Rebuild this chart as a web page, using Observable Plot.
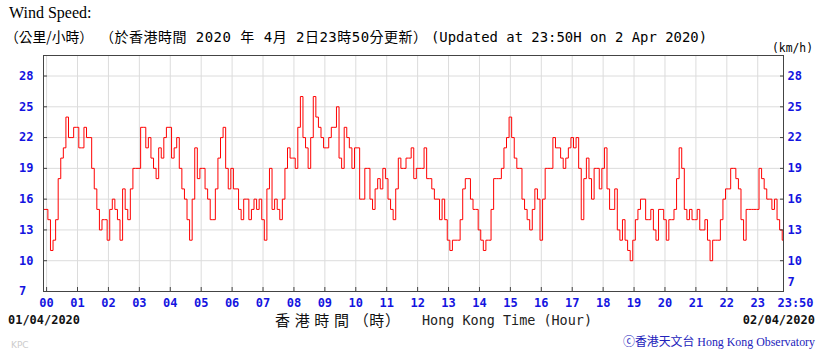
<!DOCTYPE html>
<html><head><meta charset="utf-8">
<script src="https://cdn.jsdelivr.net/npm/d3@7"></script>
<script src="https://cdn.jsdelivr.net/npm/@observablehq/plot@0.6"></script>
<style>
html,body{margin:0;padding:0;background:#fff;}
#wrap{position:relative;width:819px;height:354px;overflow:hidden;}
#chart{position:absolute;left:0;top:0;}
#overlay{position:absolute;left:0;top:0;pointer-events:none;}
</style></head><body>
<div id="wrap"><div id="chart"></div>
<svg id="overlay" width="819" height="354" xmlns="http://www.w3.org/2000/svg">
  <text x="9" y="18" font-family="Liberation Serif" font-size="16" fill="#000">Wind Speed:</text>
  <text x="5" y="42" font-family="'Noto Sans CJK TC'" font-size="14" fill="#000" textLength="88" lengthAdjust="spacingAndGlyphs">（公里/小時）</text>
  <text x="100" y="42" font-family="'DejaVu Sans Mono','Noto Sans CJK TC'" font-size="14" fill="#000" textLength="327" lengthAdjust="spacing">（於香港時間 2020 年 4月 2日23時50分更新）</text>
  <text x="431" y="42" font-family="'DejaVu Sans Mono'" font-size="14" fill="#000" textLength="276" lengthAdjust="spacingAndGlyphs">(Updated at 23:50H on 2 Apr 2020)</text>
  <text x="772" y="52" font-family="'DejaVu Sans Mono'" font-size="12" fill="#000" textLength="41" lengthAdjust="spacingAndGlyphs">(km/h)</text>
  <text x="8" y="324" font-family="'DejaVu Sans Mono'" font-weight="bold" font-size="12" fill="#111" textLength="72" lengthAdjust="spacingAndGlyphs">01/04/2020</text>
  <text x="275" y="326" font-family="'Noto Sans CJK TC'" font-size="15" fill="#111" textLength="125" lengthAdjust="spacing">香 港 時 間 （時）</text>
  <text x="422" y="325" font-family="'DejaVu Sans Mono'" font-size="14" fill="#222" textLength="170" lengthAdjust="spacingAndGlyphs">Hong Kong Time (Hour)</text>
  <text x="815" y="324" text-anchor="end" font-family="'DejaVu Sans Mono'" font-weight="bold" font-size="12" fill="#111">02/04/2020</text>
  <text x="11" y="348" font-family="'DejaVu Sans'" font-size="9" fill="#ccc">KPC</text>
  <text x="623" y="346" font-family="'Liberation Serif','Noto Sans CJK TC'" font-size="12" fill="#2222bb" textLength="192" lengthAdjust="spacingAndGlyphs">ⓒ香港天文台 Hong Kong Observatory</text>
</svg>
</div>
<script>
// Tick values and labels
const yTicks = [7, 10, 13, 16, 19, 22, 25, 28];
const hourTicks = [0,1,2,3,4,5,6,7,8,9,10,11,12,13,14,15,16,17,18,19,20,21,22,23];
const hourLabels = ["00","01","02","03","04","05","06","07","08","09","10","11","12","13","14","15","16","17","18","19","20","21","22","23"];
const endLabel = "23:50";
const endMinute = 1430;

// Wind speed (km/h): one reading just before midnight, then every 5 minutes 00:00 .. 23:50
const windStart = [15];
const windH00 = [15, 14, 11, 12, 14, 18, 20, 21, 24, 22, 22, 23];
const windH01 = [23, 21, 21, 23, 22, 22, 19, 17, 15, 13, 14, 14];
const windH02 = [12, 15, 16, 15, 14, 12, 17, 15, 14, 17, 19, 19];
const windH03 = [19, 23, 23, 21, 22, 20, 19, 18, 21, 20, 22, 23];
const windH04 = [23, 20, 21, 22, 19, 17, 16, 14, 12, 16, 21, 18];
const windH05 = [19, 19, 17, 16, 14, 14, 17, 20, 22, 23, 19, 17];
const windH06 = [19, 17, 17, 15, 14, 16, 16, 14, 15, 16, 15, 16];
const windH07 = [14, 12, 17, 19, 15, 16, 15, 14, 16, 19, 21, 20];
const windH08 = [20, 19, 23, 26, 22, 21, 19, 22, 26, 24, 23, 22];
const windH09 = [21, 21, 22, 23, 23, 25, 20, 19, 23, 22, 21, 19];
const windH10 = [21, 21, 16, 16, 19, 19, 16, 15, 17, 18, 17, 19];
const windH11 = [18, 16, 15, 14, 17, 20, 19, 19, 20, 20, 21, 18];
const windH12 = [19, 19, 19, 21, 18, 18, 17, 16, 16, 14, 16, 14];
const windH13 = [12, 11, 12, 12, 12, 14, 17, 18, 18, 16, 15, 15];
const windH14 = [13, 12, 11, 12, 12, 15, 18, 18, 18, 19, 21, 22];
const windH15 = [24, 22, 20, 19, 19, 16, 15, 14, 13, 15, 17, 16];
const windH16 = [12, 16, 19, 19, 19, 22, 21, 21, 20, 19, 20, 21];
const windH17 = [22, 21, 22, 19, 14, 18, 20, 18, 16, 19, 19, 17];
const windH18 = [19, 21, 17, 15, 15, 17, 13, 12, 14, 12, 11, 10];
const windH19 = [12, 14, 15, 16, 16, 14, 14, 15, 13, 12, 15, 15];
const windH20 = [14, 12, 14, 14, 15, 18, 21, 19, 15, 14, 15, 14];
const windH21 = [14, 15, 13, 13, 14, 12, 10, 12, 12, 12, 14, 16];
const windH22 = [17, 17, 19, 19, 18, 17, 14, 12, 15, 15, 15, 15];
const windH23 = [15, 19, 18, 17, 16, 16, 15, 16, 14, 13, 12];

const windValues = [].concat(windStart, windH00, windH01, windH02, windH03, windH04, windH05,
  windH06, windH07, windH08, windH09, windH10, windH11, windH12, windH13, windH14, windH15,
  windH16, windH17, windH18, windH19, windH20, windH21, windH22, windH23);
const windMinutes = [-6].concat(d3.range(0, endMinute + 1, 5));
const wind = windValues.map((v, i) => ({t: windMinutes[i], v}));

const blue = "#1414e0";
const lab = {fill: blue, fontWeight: "bold", fontSize: 12, fontFamily: "DejaVu Sans Mono"};
const axisStyle = {tickSize: -4, tickFormat: () => "", stroke: "#444", label: null};

const chart = Plot.plot({
  width: 819, height: 354,
  marginLeft: 43, marginRight: 36, marginTop: 55, marginBottom: 63,
  x: {domain: [-6, endMinute], axis: null},
  y: {domain: [7, 30], axis: null},
  style: {background: "transparent"},
  marks: [
    Plot.ruleX(hourTicks, {x: d => d * 60, stroke: "#dcdcdc", strokeWidth: 1}),
    Plot.ruleY(yTicks.slice(1), {y: d => d, stroke: "#dcdcdc", strokeWidth: 1}),
    Plot.line(wind, {x: "t", y: "v", stroke: "#ff0000", strokeWidth: 1, curve: "step"}),
    Plot.frame({stroke: "#444", strokeWidth: 1}),
    Plot.axisX(hourTicks.map(h => h * 60), {anchor: "bottom", ...axisStyle}),
    Plot.axisY(yTicks, {anchor: "left", ...axisStyle}),
    Plot.axisY(yTicks, {anchor: "right", ...axisStyle}),
    Plot.text(yTicks, {y: d => d, text: d => String(d), frameAnchor: "left", textAnchor: "start", dx: -24.5, lineAnchor: "middle", ...lab}),
    Plot.text(yTicks.slice(1), {y: d => d, text: d => String(d), frameAnchor: "right", textAnchor: "start", dx: 4, lineAnchor: "middle", ...lab}),
    Plot.text(yTicks.slice(0, 1), {y: d => d, text: d => String(d), frameAnchor: "right", textAnchor: "start", dx: 4, dy: -9, lineAnchor: "middle", ...lab}),
    Plot.text(hourTicks, {x: d => d * 60, text: (d, i) => hourLabels[i], frameAnchor: "bottom", dy: 11.5, lineAnchor: "middle", ...lab}),
    Plot.text([endMinute], {x: d => d, text: [endLabel], frameAnchor: "bottom", dx: 12, dy: 11.5, lineAnchor: "middle", ...lab})
  ]
});
document.getElementById("chart").appendChild(chart);
</script>
</body></html>
